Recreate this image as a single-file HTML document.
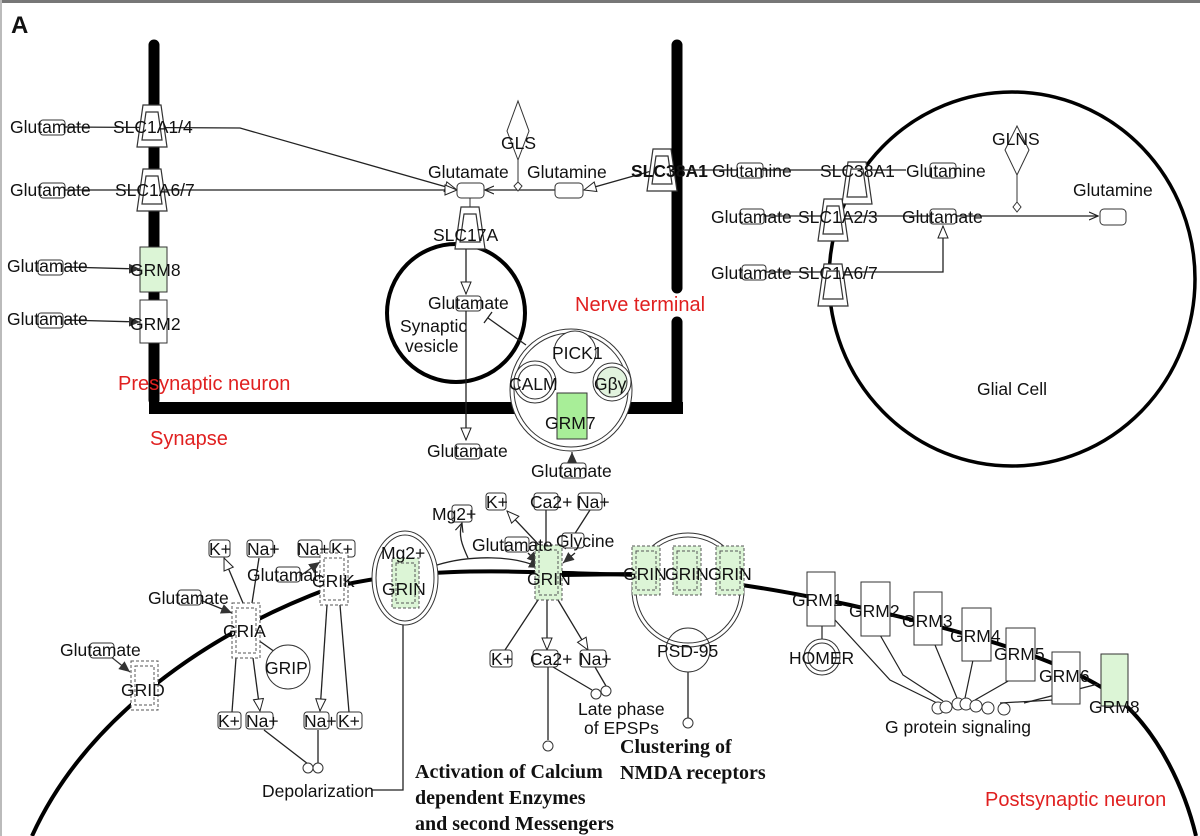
<!DOCTYPE html>
<html><head><meta charset="utf-8"><style>
html,body{margin:0;padding:0;background:#fff;}
svg{display:block;}
text{font-family:"Liberation Sans",sans-serif;font-size:17.5px;fill:#111;}
.r{fill:#e02020;font-size:20px;}
.b{font-family:"Liberation Serif",serif;font-weight:bold;font-size:20px;}
</style></head><body>
<svg width="1200" height="836" viewBox="0 0 1200 836" xmlns="http://www.w3.org/2000/svg">
<defs>
<marker id="o" markerWidth="14" markerHeight="12" refX="13" refY="6" orient="auto" markerUnits="userSpaceOnUse"><path d="M1,1 L13,6 L1,11 Z" fill="#fff" stroke="#222" stroke-width="1"/></marker>
<marker id="f" markerWidth="12" markerHeight="10" refX="11" refY="5" orient="auto" markerUnits="userSpaceOnUse"><path d="M0,0 L11,5 L0,10 Z" fill="#333"/></marker>
<marker id="s" markerWidth="10" markerHeight="10" refX="9" refY="5" orient="auto" markerUnits="userSpaceOnUse"><path d="M0,1 L9,5 L0,9" fill="none" stroke="#222" stroke-width="1.2"/></marker>
<g id="tr"><polygon points="-9,-21 9,-21 15,21 -15,21" fill="#fff" stroke="#333" stroke-width="1.2"/><polygon points="-6,-14 6,-14 10,14 -10,14" fill="#fff" stroke="#333" stroke-width="1.2"/></g>
</defs>
<rect x="0" y="0" width="1200" height="3" fill="#777"/>
<rect x="0" y="0" width="2" height="836" fill="#bbb"/>
<text x="11" y="33" style="font-size:24px;font-weight:bold">A</text>

<g stroke="#000" stroke-width="11" stroke-linecap="round" fill="none">
<line x1="154" y1="45" x2="154" y2="400"/>
<line x1="677" y1="45" x2="677" y2="288"/>
<line x1="677" y1="322" x2="677" y2="408"/>
</g>
<rect x="149" y="402" width="534" height="12" fill="#000"/>

<text class="r" x="118" y="390">Presynaptic neuron</text>
<text class="r" x="150" y="445">Synapse</text>
<text class="r" x="575" y="311">Nerve terminal</text>

<g stroke="#222" stroke-width="1.3" fill="none">
<polyline points="65,127 240,128 457,190" marker-end="url(#o)"/>
<line x1="65" y1="190" x2="457" y2="190" marker-end="url(#o)"/>
<line x1="65" y1="267" x2="140" y2="269" marker-end="url(#f)"/>
<line x1="65" y1="320" x2="140" y2="322" marker-end="url(#f)"/>
</g>
<g fill="#fff" stroke="#333" stroke-width="1">
<rect x="40" y="120" width="25" height="15" rx="3"/>
<rect x="40" y="183" width="25" height="15" rx="3"/>
<rect x="38" y="260" width="25" height="15" rx="3"/>
<rect x="38" y="313" width="25" height="15" rx="3"/>
</g>
<text x="10" y="133">Glutamate</text>
<text x="10" y="196">Glutamate</text>
<text x="7" y="272">Glutamate</text>
<text x="7" y="325">Glutamate</text>
<use href="#tr" x="152" y="126"/>
<use href="#tr" x="152" y="190"/>
<text x="113" y="133">SLC1A1/4</text>
<text x="115" y="196">SLC1A6/7</text>
<rect x="140" y="247" width="27" height="45" fill="#dcf5d6" stroke="#333"/>
<rect x="140" y="300" width="27" height="43" fill="#fff" stroke="#333"/>
<text x="130" y="276">GRM8</text>
<text x="130" y="330">GRM2</text>

<line x1="556" y1="190" x2="485" y2="190" stroke="#222" stroke-width="1.3" marker-end="url(#s)"/>
<line x1="662" y1="168" x2="584" y2="190" stroke="#222" stroke-width="1.3" marker-end="url(#o)"/>
<rect x="457" y="183" width="27" height="15" rx="4" fill="#fff" stroke="#333"/>
<rect x="555" y="183" width="28" height="15" rx="4" fill="#fff" stroke="#333"/>
<text x="428" y="178">Glutamate</text>
<text x="527" y="178">Glutamine</text>
<polygon points="518,160 529,131 518,101 507,131" fill="#fff" stroke="#333"/>
<text x="501" y="149">GLS</text>
<line x1="518" y1="160" x2="518" y2="185" stroke="#333"/>
<polygon points="518,182 522,186 518,191 514,186" fill="#fff" stroke="#333"/>
<use href="#tr" x="662" y="170"/>
<text x="631" y="177" style="font-weight:bold">SLC38A1</text>

<circle cx="456" cy="313" r="69" fill="none" stroke="#000" stroke-width="4"/>
<line x1="470" y1="198" x2="470" y2="210" stroke="#333"/>
<use href="#tr" x="470" y="228"/>
<text x="433" y="241">SLC17A</text>
<line x1="466" y1="249" x2="466" y2="294" stroke="#222" stroke-width="1.3" marker-end="url(#o)"/>
<rect x="456" y="296" width="25" height="15" rx="3" fill="#fff" stroke="#333"/>
<text x="428" y="309">Glutamate</text>
<text x="400" y="332">Synaptic</text>
<text x="405" y="352">vesicle</text>
<line x1="466" y1="311" x2="466" y2="440" stroke="#222" stroke-width="1.3" marker-end="url(#o)"/>
<rect x="455" y="444" width="25" height="15" rx="3" fill="#fff" stroke="#333"/>
<text x="427" y="457">Glutamate</text>
<line x1="526" y1="345" x2="488" y2="318" stroke="#222" stroke-width="1.3"/>
<line x1="484" y1="323" x2="492" y2="312" stroke="#222" stroke-width="1.3"/>

<circle cx="571" cy="390" r="61" fill="#fff" stroke="#333"/>
<circle cx="571" cy="390" r="57" fill="#fff" stroke="#333"/>
<circle cx="575" cy="352" r="21" fill="#fff" stroke="#333"/>
<circle cx="535" cy="382" r="21" fill="#fff" stroke="#333"/>
<circle cx="535" cy="382" r="17" fill="#fff" stroke="#333"/>
<circle cx="612" cy="382" r="19" fill="#fff" stroke="#333"/>
<circle cx="612" cy="382" r="15" fill="#e2f3de" stroke="#333"/>
<rect x="557" y="393" width="30" height="46" fill="#a8ee98" stroke="#333"/>
<text x="552" y="359">PICK1</text>
<text x="509" y="390">CALM</text>
<text x="594" y="390">Gβγ</text>
<text x="545" y="429">GRM7</text>
<line x1="572" y1="463" x2="572" y2="452" stroke="#222" stroke-width="1.3" marker-end="url(#f)"/>
<rect x="561" y="463" width="25" height="15" rx="3" fill="#fff" stroke="#333"/>
<text x="531" y="477">Glutamate</text>

<ellipse cx="1012" cy="279" rx="183" ry="187" fill="none" stroke="#000" stroke-width="3.5"/>
<line x1="682" y1="170" x2="906" y2="170" stroke="#222" stroke-width="1.3"/>
<rect x="737" y="163" width="26" height="15" rx="3" fill="#fff" stroke="#333"/>
<use href="#tr" x="857" y="183"/>
<text x="712" y="177">Glutamine</text>
<text x="820" y="177">SLC38A1</text>
<rect x="930" y="163" width="26" height="15" rx="3" fill="#fff" stroke="#333"/>
<text x="906" y="177">Glutamine</text>
<polygon points="1017,175 1029,150 1017,126 1005,150" fill="#fff" stroke="#333"/>
<text x="992" y="145">GLNS</text>
<line x1="1017" y1="175" x2="1017" y2="205" stroke="#333"/>
<polygon points="1017,202 1021,207 1017,212 1013,207" fill="#fff" stroke="#333"/>
<line x1="740" y1="216" x2="1098" y2="216" stroke="#222" stroke-width="1.3" marker-end="url(#s)"/>
<rect x="1100" y="209" width="26" height="16" rx="4" fill="#fff" stroke="#333"/>
<text x="1073" y="196">Glutamine</text>
<rect x="740" y="209" width="24" height="15" rx="3" fill="#fff" stroke="#333"/>
<text x="711" y="223">Glutamate</text>
<use href="#tr" x="833" y="220"/>
<text x="798" y="223">SLC1A2/3</text>
<rect x="930" y="209" width="26" height="15" rx="3" fill="#fff" stroke="#333"/>
<text x="902" y="223">Glutamate</text>
<polyline points="740,272 943,272 943,226" fill="none" stroke="#222" stroke-width="1.3" marker-end="url(#o)"/>
<rect x="742" y="265" width="24" height="15" rx="3" fill="#fff" stroke="#333"/>
<text x="711" y="279">Glutamate</text>
<use href="#tr" x="833" y="285"/>
<text x="798" y="279">SLC1A6/7</text>
<text x="977" y="395">Glial Cell</text>

<path d="M32,836 C80,730 190,640 330,588 C420,565 520,572 600,574 C700,575 780,590 850,605 C960,630 1070,660 1120,700 C1160,735 1185,790 1196,836" fill="none" stroke="#000" stroke-width="4"/>
<text class="r" x="985" y="806">Postsynaptic neuron</text>

<line x1="110" y1="656" x2="130" y2="672" stroke="#333" stroke-width="1.3" marker-end="url(#f)"/>
<rect x="90" y="643" width="24" height="15" rx="3" fill="#fff" stroke="#333"/>
<text x="60" y="656">Glutamate</text>
<rect x="131" y="661" width="27" height="49" fill="#fff" stroke="#555" stroke-dasharray="3,2"/>
<rect x="135" y="666" width="19" height="39" fill="#fff" stroke="#555" stroke-dasharray="3,2"/>
<text x="121" y="696">GRID</text>

<g stroke="#222" stroke-width="1.3" fill="none">
<line x1="200" y1="600" x2="232" y2="613" marker-end="url(#f)"/>
<line x1="243" y1="603" x2="224" y2="558" marker-end="url(#o)"/>
<line x1="252" y1="603" x2="259" y2="558"/>
<line x1="236" y1="658" x2="232" y2="712"/>
<line x1="253" y1="658" x2="260" y2="711" marker-end="url(#o)"/>
<line x1="258" y1="640" x2="275" y2="652"/>
<line x1="264" y1="730" x2="308" y2="764"/>
<line x1="318" y1="730" x2="318" y2="763"/>
<line x1="337" y1="553" x2="341" y2="558" marker-end="url(#o)"/>
<line x1="326" y1="553" x2="316" y2="557"/>
<line x1="327" y1="605" x2="320" y2="711" marker-end="url(#o)"/>
<line x1="340" y1="605" x2="349" y2="712"/>
<polyline points="372,790 403,790 403,598" marker-end="url(#f)"/>
</g>
<line x1="300" y1="576" x2="320" y2="562" stroke="#333" stroke-width="1.3" marker-end="url(#f)"/>
<rect x="178" y="590" width="23" height="15" rx="3" fill="#fff" stroke="#333"/>
<text x="148" y="604">Glutamate</text>
<rect x="232" y="603" width="28" height="55" fill="#fff" stroke="#555" stroke-dasharray="3,2"/>
<rect x="236" y="608" width="20" height="45" fill="#fff" stroke="#555" stroke-dasharray="3,2"/>
<text x="223" y="637">GRIA</text>
<circle cx="288" cy="667" r="22" fill="#fff" stroke="#333"/>
<text x="265" y="674">GRIP</text>
<g fill="#fff" stroke="#333">
<rect x="209" y="540" width="21" height="17" rx="3"/>
<rect x="247" y="540" width="26" height="17" rx="3"/>
<rect x="298" y="540" width="24" height="17" rx="3"/>
<rect x="330" y="540" width="25" height="17" rx="3"/>
<rect x="218" y="712" width="23" height="17" rx="3"/>
<rect x="246" y="712" width="27" height="17" rx="3"/>
<rect x="304" y="712" width="25" height="17" rx="3"/>
<rect x="337" y="712" width="25" height="17" rx="3"/>
<circle cx="308" cy="768" r="5"/><circle cx="318" cy="768" r="5"/>
</g>
<text x="209" y="555">K+</text><text x="247" y="555">Na+</text>
<text x="297" y="555">Na+</text><text x="331" y="555">K+</text>
<text x="218" y="727">K+</text><text x="246" y="727">Na+</text>
<text x="304" y="727">Na+</text><text x="338" y="727">K+</text>
<text x="262" y="797">Depolarization</text>

<rect x="276" y="567" width="24" height="15" rx="3" fill="#fff" stroke="#333"/>
<text x="247" y="581">Glutamate</text>
<rect x="320" y="553" width="28" height="52" fill="#fff" stroke="#555" stroke-dasharray="3,2"/>
<rect x="324" y="558" width="20" height="42" fill="#fff" stroke="#555" stroke-dasharray="3,2"/>
<text x="312" y="587">GRIK</text>

<ellipse cx="405" cy="578" rx="33" ry="47" fill="#fff" stroke="#333"/>
<ellipse cx="405" cy="578" rx="29" ry="43" fill="#fff" stroke="#333"/>
<rect x="392" y="558" width="27" height="50" fill="#dcf5d6" stroke="#555" stroke-dasharray="3,2"/>
<rect x="396" y="563" width="19" height="40" fill="#dcf5d6" stroke="#555" stroke-dasharray="3,2"/>
<text x="381" y="559">Mg2+</text>
<text x="382" y="595">GRIN</text>
<path d="M437,565 C470,555 515,555 540,568" fill="none" stroke="#222" stroke-width="1.3" marker-end="url(#f)"/>
<path d="M468,558 C462,545 458,535 462,523" fill="none" stroke="#222" stroke-width="1.3" marker-end="url(#s)"/>
<text x="432" y="520">Mg2+</text>
<rect x="452" y="505" width="20" height="17" rx="3" fill="none" stroke="#333"/>

<g stroke="#222" stroke-width="1.3" fill="none">
<line x1="540" y1="546" x2="507" y2="511" marker-end="url(#o)"/>
<line x1="546" y1="510" x2="546" y2="546"/>
<line x1="590" y1="510" x2="565" y2="549" />
<line x1="528" y1="553" x2="538" y2="563" marker-end="url(#f)"/>
<line x1="575" y1="553" x2="563" y2="563" marker-end="url(#f)"/>
<line x1="538" y1="600" x2="505" y2="650"/>
<line x1="547" y1="600" x2="547" y2="650" marker-end="url(#o)"/>
<line x1="558" y1="600" x2="588" y2="650" marker-end="url(#o)"/>
<line x1="548" y1="667" x2="548" y2="740"/>
<line x1="553" y1="667" x2="592" y2="690"/>
<line x1="595" y1="667" x2="606" y2="686"/>
<line x1="688" y1="672" x2="688" y2="718"/>
</g>
<rect x="535" y="545" width="27" height="55" fill="#dcf5d6" stroke="#555" stroke-dasharray="3,2"/>
<rect x="539" y="550" width="19" height="45" fill="#dcf5d6" stroke="#555" stroke-dasharray="3,2"/>
<text x="527" y="585">GRIN</text>
<g fill="#fff" stroke="#333">
<rect x="486" y="493" width="20" height="17" rx="3"/>
<rect x="534" y="493" width="24" height="17" rx="3"/>
<rect x="578" y="493" width="24" height="17" rx="3"/>
<rect x="505" y="537" width="24" height="15" rx="3"/>
<rect x="562" y="533" width="22" height="15" rx="3"/>
<rect x="490" y="650" width="22" height="17" rx="3"/>
<rect x="533" y="650" width="25" height="17" rx="3"/>
<rect x="580" y="650" width="26" height="17" rx="3"/>
<circle cx="548" cy="746" r="5"/>
<circle cx="596" cy="694" r="5"/><circle cx="606" cy="691" r="5"/>
<circle cx="688" cy="723" r="5"/>
</g>
<text x="486" y="508">K+</text><text x="530" y="508">Ca2+</text><text x="577" y="508">Na+</text>
<text x="472" y="551">Glutamate</text><text x="556" y="547">Glycine</text>
<text x="491" y="665">K+</text><text x="530" y="665">Ca2+</text><text x="579" y="665">Na+</text>
<text x="578" y="715">Late phase</text>
<text x="584" y="734">of EPSPs</text>
<text class="b" x="415" y="778">Activation of Calcium</text>
<text class="b" x="415" y="804">dependent Enzymes</text>
<text class="b" x="415" y="830">and second Messengers</text>
<text class="b" x="620" y="753">Clustering of</text>
<text class="b" x="620" y="779">NMDA receptors</text>

<line x1="562" y1="575" x2="633" y2="574" stroke="#000" stroke-width="4"/>
<ellipse cx="688" cy="590" rx="56" ry="57" fill="#fff" stroke="#333"/>
<ellipse cx="688" cy="590" rx="52" ry="53" fill="#fff" stroke="#333"/>
<g fill="#dcf5d6" stroke="#555" stroke-dasharray="3,2">
<rect x="632" y="546" width="28" height="49"/><rect x="636" y="551" width="20" height="39"/>
<rect x="673" y="546" width="28" height="49"/><rect x="677" y="551" width="20" height="39"/>
<rect x="716" y="546" width="28" height="49"/><rect x="720" y="551" width="20" height="39"/>
</g>
<text x="623" y="580">GRIN</text><text x="665" y="580">GRIN</text><text x="708" y="580">GRIN</text>
<circle cx="688" cy="650" r="22" fill="none" stroke="#333"/>
<text x="657" y="657">PSD-95</text>

<g stroke="#222" stroke-width="1.2" fill="none">
<polyline points="835,620 890,680 937,703"/>
<polyline points="880,635 903,675 943,701"/>
<line x1="935" y1="645" x2="957" y2="698"/>
<line x1="973" y1="660" x2="965" y2="698"/>
<line x1="1010" y1="680" x2="975" y2="700"/>
<line x1="1053" y1="700" x2="1000" y2="703"/>
<line x1="1098" y1="684" x2="1024" y2="703"/>
<line x1="822" y1="640" x2="822" y2="609" marker-end="url(#f)"/>
</g>
<g fill="#fff" stroke="#333">
<rect x="807" y="572" width="28" height="54"/>
<rect x="861" y="582" width="29" height="54"/>
<rect x="914" y="592" width="28" height="53"/>
<rect x="962" y="608" width="29" height="53"/>
<rect x="1006" y="628" width="29" height="53"/>
<rect x="1052" y="652" width="28" height="52"/>
<rect x="1101" y="654" width="27" height="52" fill="#dcf5d6"/>
<circle cx="822" cy="657" r="18"/><circle cx="822" cy="657" r="14"/>
<circle cx="938" cy="708" r="6"/><circle cx="946" cy="707" r="6"/>
<circle cx="958" cy="704" r="6"/><circle cx="966" cy="704" r="6"/>
<circle cx="976" cy="706" r="6"/><circle cx="988" cy="708" r="6"/>
<circle cx="1004" cy="709" r="6"/>
</g>
<text x="792" y="606">GRM1</text>
<text x="849" y="617">GRM2</text>
<text x="902" y="627">GRM3</text>
<text x="950" y="642">GRM4</text>
<text x="994" y="660">GRM5</text>
<text x="1039" y="682">GRM6</text>
<text x="1089" y="713">GRM8</text>
<text x="789" y="664">HOMER</text>
<text x="885" y="733">G protein signaling</text>
</svg>
</body></html>
